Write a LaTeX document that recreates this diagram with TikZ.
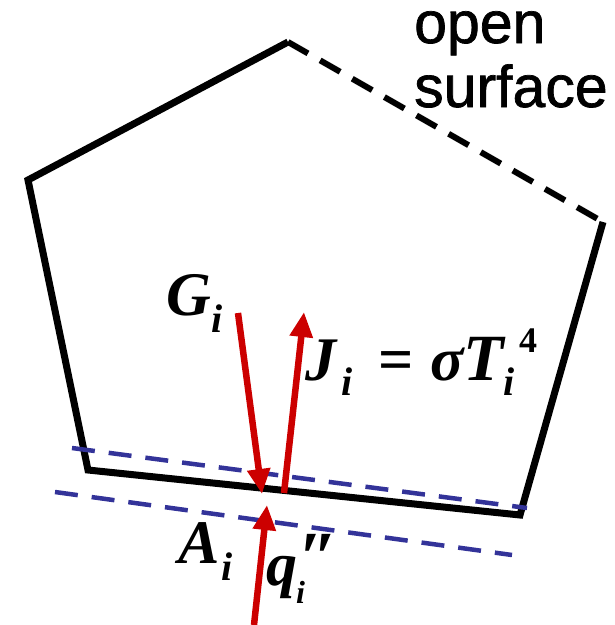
\documentclass[tikz,border=0pt]{standalone}
\usepackage{fontspec}
\setmainfont{Liberation Serif}
\newfontfamily\labelsans[FakeBold=1.2]{Liberation Sans}
\usetikzlibrary{arrows.meta}
\definecolor{arrred}{RGB}{204,0,0}
\definecolor{dashblue}{RGB}{51,51,153}
\begin{document}
\begin{tikzpicture}[x=1pt,y=-1pt,
  wall/.style={line width=7pt,line join=miter},
  openwall/.style={line width=6pt,dash pattern=on 23pt off 14pt},
  ray/.style={arrred,line width=6.5pt,-{Triangle[length=25pt,width=22pt]}},
  bound/.style={dashblue,line width=4.5pt,dash pattern=on 23pt off 14pt},
  big/.style={anchor=base west,inner sep=0pt,font=\fontsize{62}{62}\selectfont\bfseries\itshape},
  up/.style={anchor=base west,inner sep=0pt,font=\fontsize{62}{62}\selectfont\bfseries},
  sub/.style={anchor=base west,inner sep=0pt,font=\fontsize{40}{40}\selectfont\bfseries\itshape},
  sup/.style={anchor=base west,inner sep=0pt,font=\fontsize{36}{36}\selectfont\bfseries},
  sans/.style={anchor=base west,inner sep=0pt,text height=0.55em,font=\labelsans\fontsize{59}{59}\selectfont}]
\useasboundingbox (0,0) rectangle (615,625);
\coordinate (top) at (288,42);
\coordinate (lft) at (28,180);
\coordinate (bl) at (88,470);
\coordinate (br) at (520,515);
\coordinate (rgt) at (603,222);
\draw[wall] (rgt) -- (br) -- (bl) -- (lft) -- (top);
\draw[openwall] (top) -- (rgt);
\coordinate (u1) at (72,448); \coordinate (u2) at (527,508);
\coordinate (l1) at (55,492); \coordinate (l2) at (512,555);
\draw[bound] (u1) -- (u2);
\draw[bound] (l1) -- (l2);
\coordinate (gs) at (238,313); \coordinate (gt) at (262,494);
\coordinate (js) at (284,493); \coordinate (jt) at (304,312);
\coordinate (qs) at (254,625); \coordinate (qt) at (267,505);
\draw[ray] (gs) -- (gt);
\draw[ray] (js) -- (jt);
\draw[ray] (qs) -- (qt);
% G_i
\node[big] (G) at (166,315) {G};
\node[sub] (Gi) at (211,332) {i};
% J_i = sigma T_i^4
\node[big] (J) at (305,380) {J};
\node[sub] (Ji) at (341,395) {i};
\node[up] (eq) at (378,380) {=};
\node[big] (sig) at (430,380) {σ};
\node[big,font=\fontsize{66}{66}\selectfont\bfseries\itshape] (T) at (463,380) {T};
\node[sub] (Ti) at (503,395) {i};
\node[sup] (four) at (519,352) {4};
% A_i
\node[big] (A) at (178,563) {A};
\node[sub] (Ai) at (221,580) {i};
% q_i''
\node[big] (q) at (266,585) {q};
\node[big,font=\fontsize{72}{72}\selectfont\bfseries\itshape] (pp) at (298,581) {″};
\node[sub,font=\fontsize{32}{32}\selectfont\bfseries\itshape] (qi) at (296,603) {i};
% open surface
\node[sans] (open) at (414,43) {open};
\node[sans] (surf) at (414,107) {surface};
\end{tikzpicture}
\end{document}
